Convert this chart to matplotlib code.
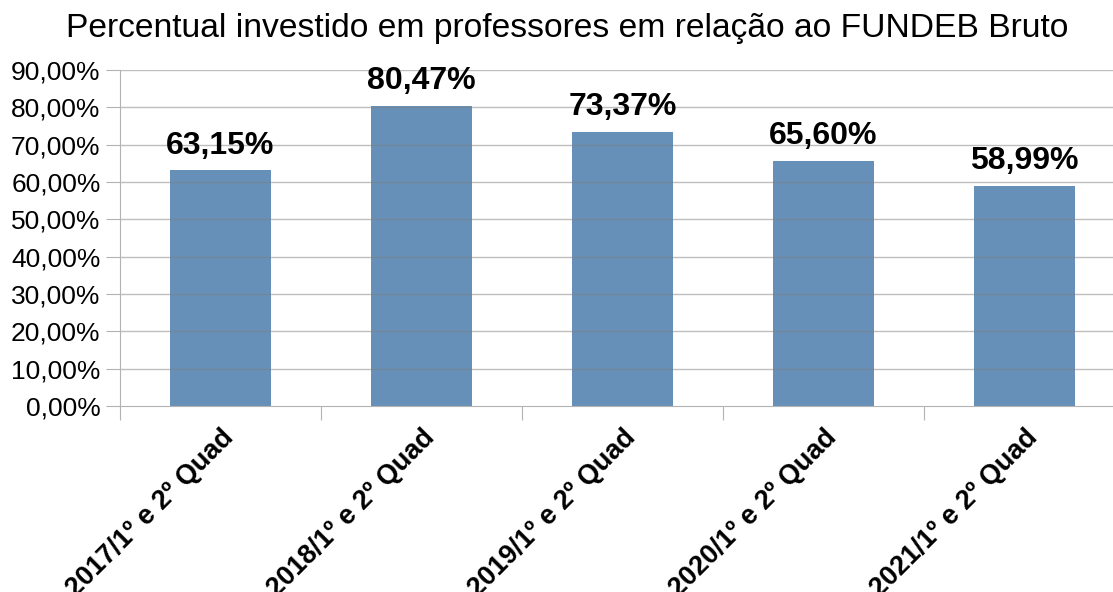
import matplotlib.pyplot as plt
import numpy as np

categorias = ['2017/1º e 2º Quad', '2018/1º e 2º Quad', '2019/1º e 2º Quad',
              '2020/1º e 2º Quad', '2021/1º e 2º Quad']
percentuais = [63.15, 80.47, 73.37, 65.60, 58.99]
yticks = [0, 10, 20, 30, 40, 50, 60, 70, 80, 90]

plt.rcParams['font.family'] = ['Liberation Sans', 'DejaVu Sans']

fig = plt.figure(figsize=(11.13, 5.92), dpi=100)
ax = fig.add_axes([120/1113, 186/592, 1005/1113, 336/592])

x = np.arange(len(categorias))
ax.bar(x, percentuais, width=0.5, color='#6690b8', zorder=2)

# grade por cima das barras
for v in yticks[1:]:
    ax.axhline(v, color='#7f7f7f', lw=1, alpha=0.5, zorder=3)

for xi, v in zip(x, percentuais):
    ax.text(xi, v + 2.6, f'{v:.2f}%'.replace('.', ','), ha='center', va='bottom',
            fontsize=23, fontweight='bold')

ax.set_xlim(-0.5, len(categorias) - 0.5)
ax.set_ylim(0, 90)
ax.set_yticks(yticks)
ax.set_yticklabels([f'{v:.2f}%'.replace('.', ',') for v in yticks], fontsize=19)

ax.set_xticks(np.arange(len(categorias) + 1) - 0.5)
ax.set_xticklabels([])
ax.set_xticks(x, minor=True)
ax.set_xticklabels(categorias, minor=True, rotation=45, ha='right',
                   rotation_mode='anchor', fontsize=19.5, fontweight='bold')
ax.tick_params(axis='x', which='minor', length=0, pad=13)
ax.tick_params(axis='x', which='major', length=10, color='#b3b3b3')
ax.tick_params(axis='y', length=10, color='#b3b3b3', pad=4)

for s in ['top', 'right']:
    ax.spines[s].set_visible(False)
ax.spines['left'].set_color('#b3b3b3')
ax.spines['bottom'].set_color('#b3b3b3')
ax.spines['left'].set_zorder(4)
ax.spines['bottom'].set_zorder(4)

fig.text(567/1113, 1 - 29/592, 'Percentual investido em professores em relação ao FUNDEB Bruto',
         ha='center', va='center', fontsize=24.2)

fig.savefig('out.png', dpi=100)
